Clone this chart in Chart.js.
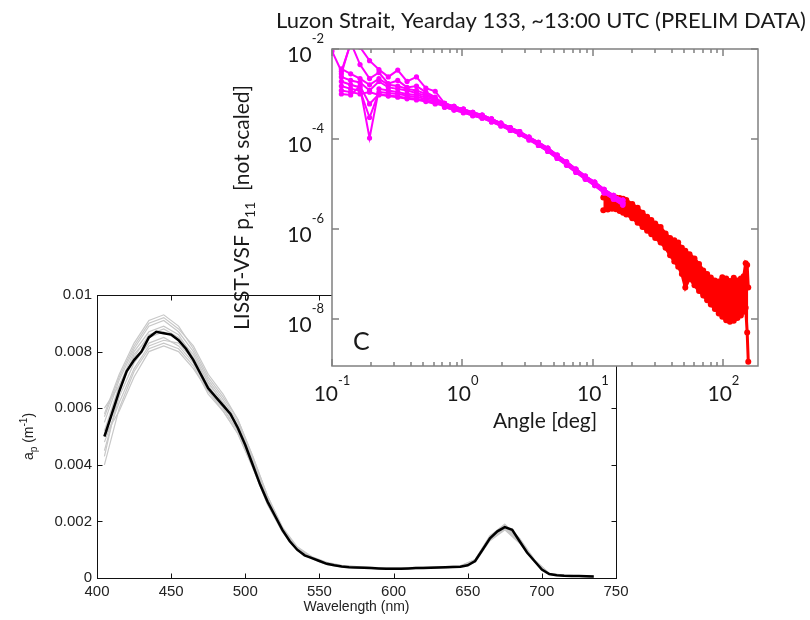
<!DOCTYPE html>
<html>
<head>
<meta charset="utf-8">
<title>Luzon Strait absorption and VSF</title>
<script src="https://cdn.jsdelivr.net/npm/chart.js@4.4.1/dist/chart.umd.min.js"></script>
<style>
  body { margin: 0; background: #fff; }
  #wrap { position: relative; width: 810px; height: 620px; }
  canvas { position: absolute; left: 0; top: 0; }
</style>
</head>
<body>
<div id="wrap">
  <canvas id="chartAp" width="810" height="620"></canvas>
  <canvas id="chartVsf" width="810" height="620"></canvas>
</div>
<script>
//---- panel 1: particulate absorption spectra ----
// mean spectrum (black), 5 nm steps
const wlMean = [405, 410, 415, 420, 425, 430, 435, 440, 445, 450, 455, 460, 465, 470, 475, 480, 485, 490, 495, 500,
  505, 510, 515, 520, 525, 530, 535, 540, 545, 550, 555, 560, 565, 570, 575, 580, 585, 590, 595, 600,
  605, 610, 615, 620, 625, 630, 635, 640, 645, 650, 655, 660, 665, 670, 675, 680, 685, 690, 695, 700,
  705, 710, 715, 720, 725, 730, 735]
const apMean = [0.0050, 0.0058, 0.0066, 0.0073, 0.0077, 0.0080, 0.0085, 0.0087, 0.00865, 0.0086, 0.0084, 0.0081, 0.0077, 0.0072, 0.0067, 0.0064, 0.0061, 0.0058, 0.0053, 0.0047,
  0.0040, 0.0033, 0.0027, 0.0022, 0.0017, 0.0013, 0.0010, 0.0008, 0.0007, 0.0006, 0.0005, 0.00045, 0.00041, 0.00038, 0.00037, 0.00036, 0.00035, 0.00034, 0.00033, 0.00033,
  0.00033, 0.00034, 0.00035, 0.00035, 0.00036, 0.00037, 0.00038, 0.00039, 0.0004, 0.00045, 0.0006, 0.0010, 0.0014, 0.00165, 0.0018, 0.0017, 0.0013, 0.0009, 0.0006, 0.0003,
  0.00014, 0.0001, 0.00008, 0.00007, 0.00007, 0.00006, 0.00005]

// individual spectra (grey), 10 nm steps
const wlAll = [405, 415, 425, 435, 445, 455, 465, 475, 485, 495, 505, 515, 525, 535, 545, 555, 565, 575, 585, 595,
  605, 615, 625, 635, 645, 655, 665, 675, 685, 695, 705, 715, 725, 735]
const apSpec1 = [0.0058, 0.0072, 0.0083, 0.0091, 0.0093, 0.0089, 0.0081, 0.0071, 0.0064, 0.0056, 0.0043, 0.0029, 0.0018, 0.0011, 0.00075, 0.00055, 0.00045, 0.0004, 0.00038, 0.00036,
  0.00036, 0.00038, 0.00039, 0.0004, 0.00043, 0.00065, 0.0015, 0.0019, 0.0014, 0.00065, 0.00016, 0.0001, 0.00008, 0.00006]
const apSpec2 = [0.0055, 0.0070, 0.0081, 0.0089, 0.0091, 0.0087, 0.0080, 0.0070, 0.0063, 0.0055, 0.0042, 0.0028, 0.00175, 0.00105, 0.00072, 0.00052, 0.00043, 0.00039, 0.00037, 0.00035,
  0.00035, 0.00037, 0.00038, 0.00039, 0.00042, 0.00062, 0.00145, 0.00188, 0.00135, 0.00062, 0.00015, 0.00009, 0.00008, 0.00006]
const apSpec3 = [0.0040, 0.0060, 0.0073, 0.0081, 0.0083, 0.0081, 0.0075, 0.0065, 0.0059, 0.0051, 0.0039, 0.0026, 0.00165, 0.00098, 0.00068, 0.00048, 0.0004, 0.00036, 0.00034, 0.00032,
  0.00032, 0.00034, 0.00035, 0.00037, 0.00039, 0.00057, 0.00135, 0.00172, 0.00125, 0.00057, 0.00013, 0.00007, 0.00006, 0.00004]
const apSpec4 = [0.0045, 0.0064, 0.0076, 0.0083, 0.0085, 0.0082, 0.0076, 0.0066, 0.0060, 0.0052, 0.0040, 0.0027, 0.0017, 0.0010, 0.0007, 0.0005, 0.00041, 0.00037, 0.00035, 0.00033,
  0.00033, 0.00035, 0.00036, 0.00038, 0.0004, 0.0006, 0.0014, 0.00175, 0.0013, 0.0006, 0.00014, 0.00008, 0.00006, 0.00005]
const apSpec5 = [0.0060, 0.0068, 0.0078, 0.0086, 0.0088, 0.0085, 0.0079, 0.0069, 0.0062, 0.0054, 0.0041, 0.0028, 0.0017, 0.00102, 0.00071, 0.0005, 0.00042, 0.00038, 0.00036, 0.00034,
  0.00034, 0.00036, 0.00037, 0.00039, 0.00041, 0.00061, 0.00142, 0.00182, 0.00132, 0.0006, 0.00014, 0.00008, 0.00007, 0.00005]
const apSpec6 = [0.0048, 0.0062, 0.0074, 0.0082, 0.0084, 0.0083, 0.0077, 0.0068, 0.0060, 0.0052, 0.0040, 0.00265, 0.00168, 0.0010, 0.0007, 0.00049, 0.0004, 0.00036, 0.00034, 0.00033,
  0.00033, 0.00034, 0.00036, 0.00037, 0.0004, 0.00059, 0.00138, 0.00178, 0.0013, 0.00058, 0.00013, 0.00008, 0.00006, 0.00005]
const apSpec7 = [0.0052, 0.0068, 0.0080, 0.0087, 0.0089, 0.0086, 0.0078, 0.0069, 0.0062, 0.0054, 0.0041, 0.00275, 0.00172, 0.00103, 0.00072, 0.00051, 0.00042, 0.00038, 0.00036, 0.00034,
  0.00034, 0.00036, 0.00037, 0.00039, 0.00041, 0.00063, 0.00143, 0.00185, 0.00133, 0.00061, 0.00015, 0.00009, 0.00007, 0.00005]
const apSpec8 = [0.0043, 0.0066, 0.0079, 0.0085, 0.0087, 0.0084, 0.0077, 0.0068, 0.0061, 0.0053, 0.0041, 0.0027, 0.0017, 0.00101, 0.0007, 0.0005, 0.00041, 0.00037, 0.00035, 0.00033,
  0.00033, 0.00035, 0.00036, 0.00038, 0.0004, 0.0006, 0.0014, 0.0018, 0.00131, 0.00059, 0.00014, 0.00008, 0.00006, 0.00005]
const apSpec9 = [0.0057, 0.0071, 0.0082, 0.0090, 0.0092, 0.0088, 0.0082, 0.0072, 0.0065, 0.0056, 0.0043, 0.0029, 0.00178, 0.00106, 0.00074, 0.00053, 0.00044, 0.0004, 0.00037, 0.00035,
  0.00035, 0.00037, 0.00038, 0.0004, 0.00042, 0.00064, 0.00148, 0.0019, 0.00138, 0.00063, 0.00016, 0.0001, 0.00008, 0.00006]
const apSpec10 = [0.0050, 0.0059, 0.0071, 0.0080, 0.0082, 0.0080, 0.0074, 0.0066, 0.0059, 0.0051, 0.0039, 0.0026, 0.00163, 0.00097, 0.00067, 0.00047, 0.00039, 0.00035, 0.00033, 0.00032,
  0.00032, 0.00033, 0.00035, 0.00036, 0.00039, 0.00056, 0.00132, 0.0017, 0.00123, 0.00056, 0.00013, 0.00007, 0.00006, 0.00004]

const wlTicks = [400, 450, 500, 550, 600, 650, 700, 750]
const apTicks = [0, 0.002, 0.004, 0.006, 0.008, 0.01]

//---- panel 2: LISST volume scattering function ----
const vsfTitle = 'Luzon Strait, Yearday 133, ~13:00 UTC (PRELIM DATA)'
// LISST-100X ring angles (deg), magenta curves
const ringAngles = [0.100, 0.118, 0.139, 0.164, 0.194, 0.229, 0.270, 0.319, 0.376, 0.444, 0.524, 0.618,
  0.729, 0.861, 1.016, 1.199, 1.415, 1.669, 1.970, 2.324, 2.743, 3.236, 3.819, 4.506, 5.318, 6.275,
  7.404, 8.737, 10.31, 12.17, 14.36, 16.94]
// first 12 rings, noisy part of each profile (null = no point)
const vsfHead1 = [9e-3, 3.2e-3, 1.3e-2, 1.1e-2, 5.5e-3, 3.5e-3, 2.4e-3, 3.4e-3, 1.9e-3, 2.4e-3, 1.35e-3, 1.15e-3]
const vsfHead2 = [null, 2.8e-3, 1.4e-2, 4.5e-3, 2.2e-3, 3.0e-3, 1.7e-3, 2.0e-3, 1.4e-3, 1.5e-3, 1.1e-3, 8.5e-4]
const vsfHead3 = [null, 2.4e-3, 2.0e-3, 1.8e-3, 1.2e-3, 1.9e-3, 1.4e-3, 1.3e-3, 1.2e-3, 1.05e-3, 9.2e-4, 7.6e-4]
const vsfHead4 = [null, 1.9e-3, 1.6e-3, 1.4e-3, 1.05e-4, 1.3e-3, 1.2e-3, 1.1e-3, 1.0e-3, 9.5e-4, 8.4e-4, 7.2e-4]
const vsfHead5 = [null, 1.5e-3, 1.3e-3, 1.2e-3, 3e-4, 1.1e-3, 1.05e-3, 1.0e-3, 9.2e-4, 8.6e-4, 7.8e-4, 6.7e-4]
const vsfHead6 = [null, 1.2e-3, 1.1e-3, 1.0e-3, 1.1e-3, 9.5e-4, 9.2e-4, 8.8e-4, 8.2e-4, 7.8e-4, 7.1e-4, 6.3e-4]
const vsfHead7 = [null, 1.0e-3, 9.5e-4, 1.5e-3, 6e-4, 1.0e-3, 9.0e-4, 8.5e-4, 7.8e-4, 7.4e-4, 6.8e-4, 6.0e-4]
const vsfHead8 = [null, 3.6e-3, 2.8e-3, 2.2e-3, 1.6e-3, 2.2e-3, 1.6e-3, 1.5e-3, 1.3e-3, 1.2e-3, 1.0e-3, 8e-4]
// remaining 20 rings, smooth part
const vsfTailHigh = [6.2e-4, 5.3e-4, 4.6e-4, 3.9e-4, 3.4e-4, 2.8e-4, 2.25e-4, 1.78e-4, 1.45e-4, 1.1e-4,
  8.4e-5, 6.3e-5, 4.4e-5, 3.1e-5, 2.15e-5, 1.5e-5, 1.1e-5, 7.6e-6, 5.6e-6, 4.4e-6]
const vsfTailMid = [5.6e-4, 4.8e-4, 4.2e-4, 3.6e-4, 3.2e-4, 2.6e-4, 2.1e-4, 1.66e-4, 1.35e-4, 1.02e-4,
  7.8e-5, 5.8e-5, 4.0e-5, 2.8e-5, 1.95e-5, 1.38e-5, 1.0e-5, 6.9e-6, 5.0e-6, 3.8e-6]
const vsfTailLow = [5.1e-4, 4.4e-4, 3.85e-4, 3.3e-4, 2.9e-4, 2.4e-4, 1.95e-4, 1.55e-4, 1.25e-4, 9.5e-5,
  7.2e-5, 5.3e-5, 3.7e-5, 2.6e-5, 1.8e-5, 1.27e-5, 9.2e-6, 6.3e-6, 4.6e-6, 3.4e-6]

// LISST-VSF angles (deg), red cloud given by its upper and lower edge
const vsfAngles = [12, 13, 14, 15, 16, 17, 18, 20, 22, 24, 26, 28, 30, 33, 36, 39, 42, 45, 48, 51,
  55, 60, 65, 70, 75, 80, 86, 92, 98, 105, 112, 120, 128, 136, 143, 148, 152, 155]
const vsfRedUpper = [5.0e-6, 5.0e-6, 4.9e-6, 5.0e-6, 4.9e-6, 4.7e-6, 4.4e-6, 3.6e-6, 2.95e-6, 2.3e-6, 1.86e-6, 1.58e-6, 1.32e-6, 1.1e-6, 7.9e-7, 6.3e-7, 5.6e-7, 5.0e-7, 3.8e-7, 3.3e-7,
  2.75e-7, 2.2e-7, 1.66e-7, 1.2e-7, 1.0e-7, 8.3e-8, 7.2e-8, 6.8e-8, 8.4e-8, 7.9e-8, 7.0e-8, 8.2e-8, 7.2e-8, 7.9e-8, 8.9e-8, 1.74e-7, 1.58e-7, 5e-8]
const vsfRedLower = [2.6e-6, 2.7e-6, 2.8e-6, 2.75e-6, 2.5e-6, 2.3e-6, 2.1e-6, 1.74e-6, 1.38e-6, 1.1e-6, 9.1e-7, 7.6e-7, 6.3e-7, 5.0e-7, 3.8e-7, 2.6e-7, 1.9e-7, 1.45e-7, 1.0e-7, 5.0e-8,
  7.9e-8, 5.6e-8, 4.2e-8, 3.3e-8, 2.6e-8, 2.1e-8, 1.66e-8, 1.32e-8, 1.12e-8, 9.3e-9, 8.7e-9, 9.1e-9, 1.05e-8, 1.2e-8, 1.45e-8, 1.78e-8, 5e-9, 1.12e-9]

const angleTicks = [0.1, 0.2, 0.3, 0.4, 0.5, 0.6, 0.7, 0.8, 0.9, 1, 2, 3, 4, 5, 6, 7, 8, 9,
  10, 20, 30, 40, 50, 60, 70, 80, 90, 100]
const vsfTicks = [1e-8, 1e-6, 1e-4, 1e-2]

//---- helpers ----
function isDecade(v) {
  const lg = Math.log10(v)
  return Math.abs(lg - Math.round(lg)) < 1e-9
}

// draws a row of text pieces [text, size, dy] with one font family
function drawRuns(ctx, runs, family, x, y, align) {
  let total = 0
  runs.forEach(r => {
    ctx.font = r[1] + 'px "' + family + '"'
    total += ctx.measureText(r[0]).width
  })
  let cx = align === 'center' ? x - total / 2 : align === 'right' ? x - total : x
  ctx.textAlign = 'left'
  ctx.textBaseline = 'alphabetic'
  runs.forEach(r => {
    ctx.font = r[1] + 'px "' + family + '"'
    ctx.fillText(r[0], cx, y + r[2])
    cx += ctx.measureText(r[0]).width
  })
}

// box round the plot area with inward ticks on all four sides
const frame = {
  id: 'frame',
  beforeDraw(chart, args, o) {
    if (!o.fill) return
    const a = chart.chartArea
    chart.ctx.save()
    chart.ctx.fillStyle = o.fill
    chart.ctx.fillRect(a.left, a.top, a.right - a.left, a.bottom - a.top)
    chart.ctx.restore()
  },
  afterDraw(chart, args, o) {
    const ctx = chart.ctx
    const a = chart.chartArea
    const sx = chart.scales.x
    const sy = chart.scales.y
    const L = a.left + o.shift, R = a.right + o.shift, T = a.top + o.shift, B = a.bottom + o.shift
    ctx.save()
    ctx.strokeStyle = o.color
    ctx.lineWidth = o.width
    ctx.beginPath()
    sx.ticks.forEach(t => {
      const len = (o.linear || isDecade(t.value)) ? o.major : o.minor
      const p = Math.round(sx.getPixelForValue(t.value)) + o.shift
      ctx.moveTo(p, B); ctx.lineTo(p, B - len)
      ctx.moveTo(p, T); ctx.lineTo(p, T + len)
    })
    sy.ticks.forEach(t => {
      const p = Math.round(sy.getPixelForValue(t.value)) + o.shift
      ctx.moveTo(L, p); ctx.lineTo(L + o.major, p)
      ctx.moveTo(R, p); ctx.lineTo(R - o.major, p)
    })
    ctx.stroke()
    ctx.strokeRect(L, T, R - L, B - T)
    ctx.restore()
  }
}

// labels with sub/superscripts that the axis titles cannot do
const apLabels = {
  id: 'apLabels',
  afterDraw(chart) {
    const ctx = chart.ctx
    const a = chart.chartArea
    ctx.save()
    ctx.fillStyle = '#222'
    ctx.translate(33, (a.top + a.bottom) / 2)
    ctx.rotate(-Math.PI / 2)
    drawRuns(ctx, [['a', 14, 0], ['p', 10, 4], [' (m', 14, 0], ['-1', 10, -6], [')', 14, 0]], 'Liberation Sans', 0, 0, 'center')
    ctx.restore()
  }
}

const vsfLabels = {
  id: 'vsfLabels',
  afterDraw(chart) {
    const ctx = chart.ctx
    const a = chart.chartArea
    const sx = chart.scales.x
    const sy = chart.scales.y
    ctx.save()
    ctx.fillStyle = '#1a1a1a'
    // title is wider than the plot box, so it is drawn here without a width limit
    drawRuns(ctx, [[vsfTitle, 22, 0]], 'Lato', 541, 28, 'center')
    sx.ticks.filter(t => isDecade(t.value)).forEach(t => {
      const e = String(Math.round(Math.log10(t.value)))
      drawRuns(ctx, [['10', 21, 0], [e, 13, -16]], 'Lato', sx.getPixelForValue(t.value), a.bottom + 35, 'center')
    })
    sy.ticks.forEach(t => {
      const e = String(Math.round(Math.log10(t.value)))
      drawRuns(ctx, [['10', 21, 0], [e, 13, -19]], 'Lato', a.left - 8, sy.getPixelForValue(t.value) + 13, 'right')
    })
    drawRuns(ctx, [['C', 25, 0]], 'Lato', a.left + 21, a.bottom - 16, 'left')
    ctx.translate(a.left - 83, (a.top + a.bottom) / 2)
    ctx.rotate(-Math.PI / 2)
    drawRuns(ctx, [['LISST-VSF p', 21, 0], ['11', 14, 6], ['  [not scaled]', 21, 0]], 'Lato', 0, 0, 'center')
    ctx.restore()
  }
}

//---- chart 1 ----
const greySpectra = [apSpec1, apSpec2, apSpec3, apSpec4, apSpec5, apSpec6, apSpec7, apSpec8, apSpec9, apSpec10]
const apDatasets = [{
  data: wlMean.map((w, i) => ({ x: w, y: apMean[i] })),
  borderColor: '#000',
  borderWidth: 2.5,
  pointRadius: 0
}]
greySpectra.forEach(s => {
  apDatasets.push({
    data: wlAll.map((w, i) => ({ x: w, y: s[i] })),
    borderColor: '#c8c8c8',
    borderWidth: 1.2,
    pointRadius: 0
  })
})

new Chart(document.getElementById('chartAp'), {
  type: 'line',
  data: { datasets: apDatasets },
  options: {
    responsive: false,
    animation: false,
    layout: { padding: { left: 37, right: 194, top: 295, bottom: 4 } },
    plugins: {
      legend: { display: false },
      tooltip: { enabled: false },
      frame: { color: '#111', width: 1, major: 5, minor: 5, linear: true, shift: 0.5 }
    },
    scales: {
      x: {
        type: 'linear',
        min: 400,
        max: 750,
        afterBuildTicks: s => { s.ticks = wlTicks.map(v => ({ value: v })) },
        afterFit: s => { s.height = 38 },
        grid: { display: false, drawTicks: false },
        border: { display: false },
        ticks: { padding: 5, color: '#222', font: { family: 'Liberation Sans', size: 15 }, maxRotation: 0, autoSkip: false },
        title: { display: true, text: 'Wavelength (nm)', color: '#222', font: { family: 'Liberation Sans', size: 14 }, padding: 0 }
      },
      y: {
        type: 'linear',
        min: 0,
        max: 0.01,
        afterBuildTicks: s => { s.ticks = apTicks.map(v => ({ value: v })) },
        afterFit: s => { s.width = 60 },
        grid: { display: false, drawTicks: false },
        border: { display: false },
        ticks: {
          padding: 5,
          color: '#222',
          font: { family: 'Liberation Sans', size: 15 },
          callback: v => String(+v.toFixed(4))
        }
      }
    }
  },
  plugins: [frame, apLabels]
})

//---- chart 2 ----
const magentaPairs = [
  [vsfHead1, vsfTailHigh], [vsfHead2, vsfTailMid], [vsfHead3, vsfTailLow], [vsfHead4, vsfTailMid],
  [vsfHead5, vsfTailLow], [vsfHead6, vsfTailHigh], [vsfHead7, vsfTailMid], [vsfHead8, vsfTailHigh]
]
const vsfDatasets = magentaPairs.map(([head, tail]) => {
  const vals = head.concat(tail)
  return {
    data: ringAngles.map((a, i) => ({ x: a, y: vals[i] })).filter(p => p.y !== null),
    borderColor: '#ff00ff',
    backgroundColor: '#ff00ff',
    borderWidth: 2,
    pointRadius: 2.6,
    pointBorderWidth: 0
  }
})
vsfDatasets.push({
  data: vsfAngles.map((a, i) => ({ x: a, y: vsfRedUpper[i] })),
  borderColor: '#ff0000',
  backgroundColor: '#ff0000',
  borderWidth: 3,
  pointRadius: 3,
  pointBorderWidth: 0
})
vsfDatasets.push({
  data: vsfAngles.map((a, i) => ({ x: a, y: vsfRedLower[i] })),
  borderColor: '#ff0000',
  backgroundColor: '#ff0000',
  borderWidth: 3,
  pointRadius: 3,
  pointBorderWidth: 0,
  fill: '-1'
})

new Chart(document.getElementById('chartVsf'), {
  type: 'line',
  data: { datasets: vsfDatasets },
  options: {
    responsive: false,
    animation: false,
    layout: { padding: { left: 252, right: 52, top: 49, bottom: 184 } },
    plugins: {
      legend: { display: false },
      tooltip: { enabled: false },
      frame: { color: '#808080', width: 1.5, major: 7, minor: 4, linear: false, shift: 0, fill: '#fff' }
    },
    scales: {
      x: {
        type: 'logarithmic',
        min: 0.1,
        max: 184,
        afterBuildTicks: s => { s.ticks = angleTicks.map(v => ({ value: v })) },
        afterFit: s => { s.height = 70 },
        grid: { display: false, drawTicks: false },
        border: { display: false },
        ticks: { display: false },
        title: { display: true, text: 'Angle [deg]', color: '#1a1a1a', font: { family: 'Lato', size: 21 }, padding: { top: 0, bottom: 2 } }
      },
      y: {
        type: 'logarithmic',
        min: 9e-10,
        max: 1e-2,
        afterBuildTicks: s => { s.ticks = vsfTicks.map(v => ({ value: v })) },
        afterFit: s => { s.width = 80 },
        grid: { display: false, drawTicks: false },
        border: { display: false },
        ticks: { display: false }
      }
    }
  },
  plugins: [frame, vsfLabels]
})
</script>
</body>
</html>
